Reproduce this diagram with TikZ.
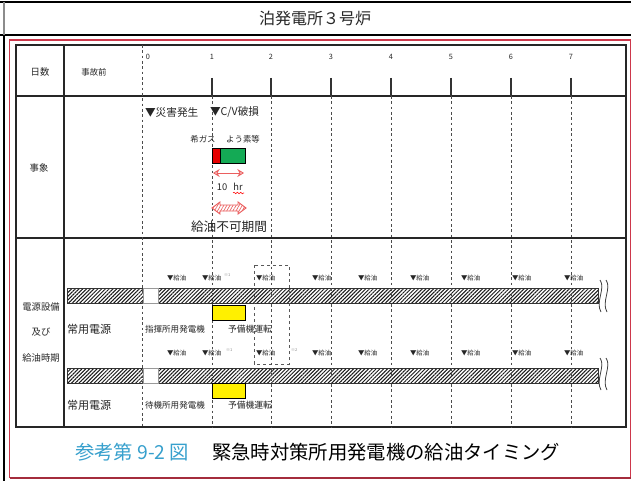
\documentclass[tikz,border=0pt]{standalone}
\usepackage{fontspec}
\setmainfont{Noto Sans CJK JP}
\newfontfamily\jpfont{Noto Sans CJK JP}
\usetikzlibrary{patterns.meta,decorations.pathmorphing,arrows.meta}
\definecolor{frameRed}{RGB}{205,55,75}
\definecolor{capBlue}{RGB}{55,160,205}
\definecolor{barGreen}{RGB}{20,170,85}
\definecolor{barRed}{RGB}{230,0,0}
\definecolor{arrRed}{RGB}{235,95,95}
\definecolor{boxYellow}{RGB}{255,240,0}
\begin{document}
\begin{tikzpicture}[x=0.75pt,y=-0.75pt,
  txt/.style={inner sep=0pt, outer sep=0pt, text=black!85},
  fs/.style={font=\fontsize{#1}{#1}\selectfont},
  dayline/.style={draw=black!70, line width=0.6pt, dash pattern=on 2pt off 2pt},
  tablerule/.style={draw=black!85, line width=0.9pt},
  hatchbar/.style={draw=black!80, line width=0.6pt, fill=black!30,
     pattern={Lines[angle=45,distance=2pt,line width=0.75pt]}, pattern color=black!90},
  gapbox/.style={draw=black!40, fill=white, line width=0.5pt},
  marker/.style={txt, anchor=west, fs=4.8},
  supnote/.style={txt, anchor=west, fs=3, text=black!45},
  boxline/.style={draw=black, line width=0.7pt}
]
\useasboundingbox (0,0) rectangle (631,481);
\fill[white] (0,0) rectangle (631,481);

% outer frame
\draw[black, line width=1.4pt] (0,2) -- (631,2);
\draw[black, line width=1.8pt] (0,35) -- (631,35);
\draw[black!45, line width=1pt] (4,2) -- (4,35);
\draw[black, line width=1.4pt] (4,35) -- (4,481);
\node[txt, fs=12] (title) at (315,18) {泊発電所３号炉};

% red frame
\draw[frameRed, line width=0.8pt] (9.5,478) -- (9.5,40) -- (630.5,40) -- (630.5,478);
\draw[frameRed!80!black, line width=1.6pt] (9.5,478) -- (631,478);

% table
\draw[tablerule] (16,45) rectangle (626,427);
\draw[tablerule] (64,45) -- (64,427);
\draw[tablerule] (16,96) -- (626,96);
\draw[tablerule] (16,238) -- (626,238);

% header row
\node[txt, fs=7] (hdays) at (40,72) {日数};
\node[txt, fs=6.3] (hbefore) at (94,72) {事故前};
\node[txt, fs=5.5] (d0) at (148,57) {0};
\node[txt, fs=5.5] (d1) at (212,57) {1};
\node[txt, fs=5.5] (d2) at (271,57) {2};
\node[txt, fs=5.5] (d3) at (331,57) {3};
\node[txt, fs=5.5] (d4) at (391,57) {4};
\node[txt, fs=5.5] (d5) at (451,57) {5};
\node[txt, fs=5.5] (d6) at (511,57) {6};
\node[txt, fs=5.5] (d7) at (571,57) {7};
\foreach \x in {212,271,331,391,451,511,571} {
  \draw[black!80, line width=0.8pt] (\x,78) -- (\x,96);
}

% row labels
\node[txt, fs=7] (levent) at (39,168) {事象};
\node[txt, fs=7] (lpow1) at (41,307) {電源設備};
\node[txt, fs=7] (lpow2) at (41,332) {及び};
\node[txt, fs=7] (lpow3) at (41,358) {給油時期};

% hatched bars (row 1 and row 2)
\path[hatchbar] (67,288) rectangle (598,303);
\path[gapbox] (143,288) rectangle (158,303);
\path[hatchbar] (67,368) rectangle (598,383);
\path[gapbox] (143,368) rectangle (158,383);

% break marks
\foreach \x in {600,606} {
  \draw[black!75, line width=0.6pt] (\x,280) .. controls (\x+6,288) and (\x-5,302) .. (\x+1,312);
  \draw[black!75, line width=0.6pt] (\x,358) .. controls (\x+6,366) and (\x-5,380) .. (\x+1,390);
}

% dashed box
\draw[black!65, line width=0.6pt, dash pattern=on 2.5pt off 2pt] (254,265) rectangle (289,364);

% day lines
\draw[dayline] (142,45) -- (142,427);
\foreach \x in {212,271,331,391,451,511,571} {
  \draw[dayline] (\x,96) -- (\x,427);
}

% event row
\node[txt, anchor=west, fs=8] (ev1) at (145,112) {▼災害発生};
\node[txt, anchor=west, fs=8] (ev2) at (210,112) {▼C/V破損};
\node[txt, fs=6.3] (gas1) at (203,139) {希ガス};
\node[txt, fs=6.3] (gas2) at (243,139) {よう素等};
\draw[boxline, fill=barRed] (212,148) rectangle (220,163);
\draw[boxline, fill=barGreen] (220,148) rectangle (245,163);
\coordinate (ra) at (213,173);
\coordinate (rb) at (244,173);
\draw[arrRed, line width=0.7pt, {Stealth[length=5pt,width=6pt,open]}-{Stealth[length=5pt,width=6pt,open]}] (ra) -- (rb);
\node[txt, fs=7] (ten) at (222,187) {10};
\node[txt, fs=7] (hr) at (238,187) {hr};
\draw[red, line width=0.4pt, decorate, decoration={snake, amplitude=0.6pt, segment length=2.5pt}] (233,193) -- (244,193);
\path[draw=arrRed, line width=0.7pt, pattern={Lines[angle=60,distance=2pt,line width=0.5pt]}, pattern color=arrRed]
  (212,208) -- (220,202) -- (220,205) -- (238,205) -- (238,202) -- (246,208)
  -- (238,214) -- (238,211) -- (220,211) -- (220,214) -- cycle;
\node[txt, fs=9.5] (nofuel) at (229,227) {給油不可期間};

% power row 1
\node[marker] (m11) at (167,278) {▼給油};
\node[marker] (m12) at (202,278) {▼給油};
\node[supnote] (s12) at (224,275) {※1};
\node[marker] (m13) at (256,278) {▼給油};
\node[marker] (m14) at (312,278) {▼給油};
\node[marker] (m15) at (358,278) {▼給油};
\node[marker] (m16) at (410,278) {▼給油};
\node[marker] (m17) at (461,278) {▼給油};
\node[marker] (m18) at (512,278) {▼給油};
\node[marker] (m19) at (564,278) {▼給油};
\draw[boxline, fill=boxYellow] (212,305) rectangle (245,320);
\node[txt, anchor=west, fs=8.3] (u1) at (67,329) {常用電源};
\node[txt, fs=6.4] (g1) at (175,329) {指揮所用発電機};
\node[txt, fs=6.6] (p1) at (250,329) {予備機運転};

% power row 2
\node[marker] (m21) at (167,353) {▼給油};
\node[marker] (m22) at (202,353) {▼給油};
\node[supnote] (s22) at (226,350) {※1};
\node[marker] (m23) at (256,353) {▼給油};
\node[supnote] (s23) at (291,350) {※2};
\node[marker] (m24) at (312,353) {▼給油};
\node[marker] (m25) at (358,353) {▼給油};
\node[marker] (m26) at (410,353) {▼給油};
\node[marker] (m27) at (461,353) {▼給油};
\node[marker] (m28) at (512,353) {▼給油};
\node[marker] (m29) at (564,353) {▼給油};
\draw[boxline, fill=boxYellow] (212,383) rectangle (245,398);
\node[txt, anchor=west, fs=8.3] (u2) at (67,405) {常用電源};
\node[txt, fs=6.4] (g2) at (175,405) {待機所用発電機};
\node[txt, fs=6.6] (p2) at (250,405) {予備機運転};

% caption
\node[txt, anchor=west, fs=14.5, text=capBlue] (capA) at (75,452) {参考第 9-2 図};
\node[txt, anchor=west, fs=14.5, text=black] (capB) at (212,452) {緊急時対策所用発電機の給油タイミング};
\end{tikzpicture}
\end{document}
